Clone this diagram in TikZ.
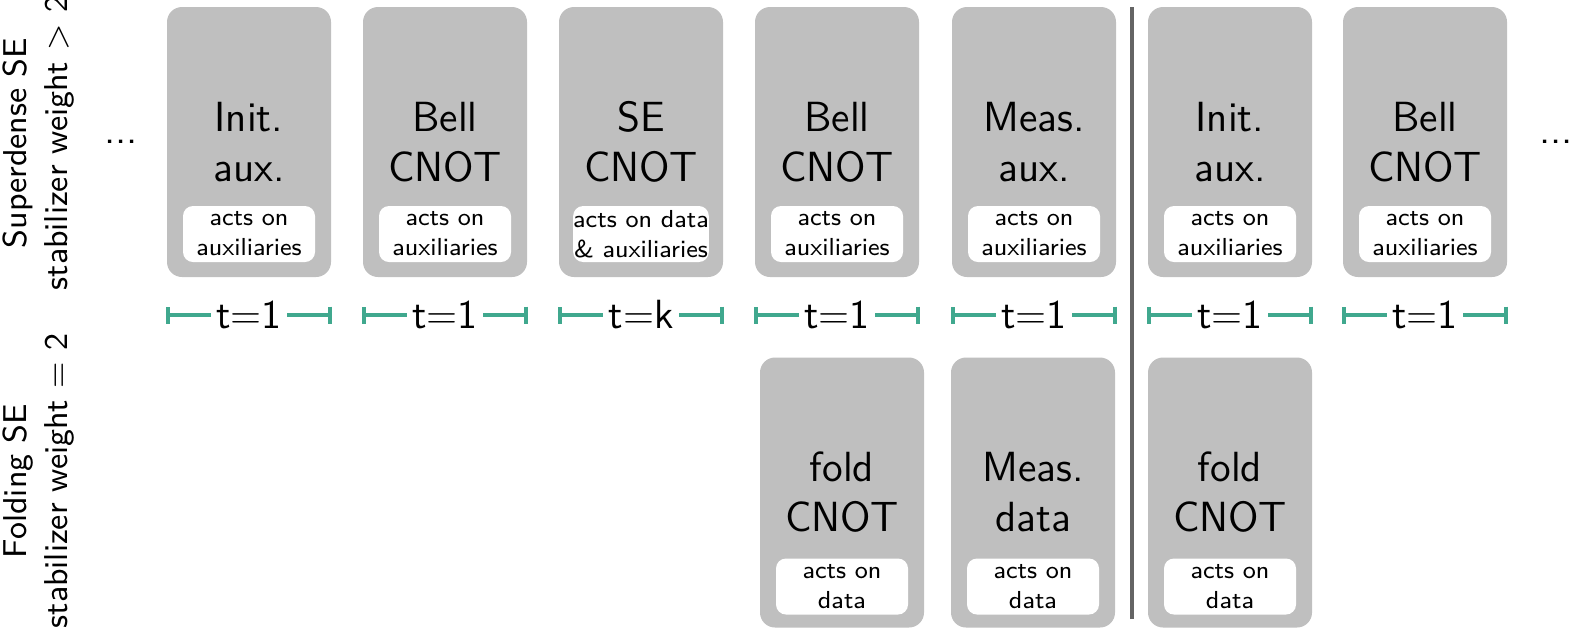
\documentclass[tikz,border=0pt]{standalone}
\usepackage{xcolor}
\usepackage{tikz}
\usetikzlibrary{arrows.meta, positioning}
\renewcommand{\familydefault}{\sfdefault}
\definecolor{mgate}{RGB}{191, 191, 191}
\definecolor{mteal}{RGB}{64, 168, 142}
\definecolor{mgray}{RGB}{100, 100, 100}

\begin{document}
\begin{tikzpicture}[
    gate/.style={rectangle, rounded corners=0.15cm, fill=mgate,
      minimum width=1.64cm, minimum height=2.70cm, inner sep=0pt,
      align=center, font=\fontsize{12}{14.2}\selectfont},
    acts/.style={rectangle, rounded corners=0.1cm, fill=white,
      minimum width=1.32cm, minimum height=0.56cm, inner sep=0pt,
      align=center, font=\fontsize{7}{8.5}\selectfont},
    tlabel/.style={inner sep=0.05cm, font=\fontsize{11.6}{14.2}\selectfont},
    tstart/.style={mteal, line width=0.04cm, {Bar[width=0.17cm]}-},
    tend/.style={mteal, line width=0.04cm, -{Bar[width=0.17cm]}},
    rowlabel/.style={rotate=90, align=center, font=\fontsize{9.4}{11.7}\selectfont}
  ]
  \useasboundingbox (0,0) rectangle (15.71,6.28);
  % Row labels
  \node[rowlabel] (rowsd) at (0.39,4.85) {Superdense SE\\stabilizer weight > 2};
  \node[rowlabel] (rowfold) at (0.39,1.47) {Folding SE\\stabilizer weight = 2};
  % Continuation dots
  \node[font=\fontsize{11.7}{14}\selectfont] (dotsl) at (1.21,4.86) {...};
  \node[font=\fontsize{11.7}{14}\selectfont] (dotsr) at (15.56,4.86) {...};
  % Superdense round
  \node[gate] (init1) at (2.49,4.86) {Init.\\aux.};
  \node[acts, above=0.15cm of init1.south] (init1act) {acts on\\auxiliaries};
  \node[gate] (bell1) at (4.45,4.86) {Bell\\CNOT};
  \node[acts, above=0.15cm of bell1.south] (bell1act) {acts on\\auxiliaries};
  \node[gate] (secnot) at (6.41,4.86) {SE\\CNOT};
  \node[acts, above=0.15cm of secnot.south] (secnotact) {acts on data\\\& auxiliaries};
  \node[gate] (bell2) at (8.37,4.86) {Bell\\CNOT};
  \node[acts, above=0.15cm of bell2.south] (bell2act) {acts on\\auxiliaries};
  \node[gate] (meas1) at (10.34,4.86) {Meas.\\aux.};
  \node[acts, above=0.15cm of meas1.south] (meas1act) {acts on\\auxiliaries};
  \node[gate] (init2) at (12.30,4.86) {Init.\\aux.};
  \node[acts, above=0.15cm of init2.south] (init2act) {acts on\\auxiliaries};
  \node[gate] (bell3) at (14.25,4.86) {Bell\\CNOT};
  \node[acts, above=0.15cm of bell3.south] (bell3act) {acts on\\auxiliaries};
  % Folding round
  \node[gate] (fold1) at (8.42,1.355) {fold\\CNOT};
  \node[acts, above=0.13cm of fold1.south] (fold1act) {acts on\\data};
  \node[gate] (measd) at (10.33,1.355) {Meas.\\data};
  \node[acts, above=0.13cm of measd.south] (measdact) {acts on\\data};
  \node[gate] (fold2) at (12.30,1.355) {fold\\CNOT};
  \node[acts, above=0.13cm of fold2.south] (fold2act) {acts on\\data};
  % Time steps
  \coordinate (tl) at (0,3.13);
  \node[tlabel] (tinit1) at (init1 |- tl) {t=1};
  \draw[tstart] (init1.west |- tl) -- (tinit1.west);
  \draw[tend] (tinit1.east) -- (init1.east |- tl);
  \node[tlabel] (tbell1) at (bell1 |- tl) {t=1};
  \draw[tstart] (bell1.west |- tl) -- (tbell1.west);
  \draw[tend] (tbell1.east) -- (bell1.east |- tl);
  \node[tlabel] (tsecnot) at (secnot |- tl) {t=k};
  \draw[tstart] (secnot.west |- tl) -- (tsecnot.west);
  \draw[tend] (tsecnot.east) -- (secnot.east |- tl);
  \node[tlabel] (tbell2) at (bell2 |- tl) {t=1};
  \draw[tstart] (bell2.west |- tl) -- (tbell2.west);
  \draw[tend] (tbell2.east) -- (bell2.east |- tl);
  \node[tlabel] (tmeas1) at (meas1 |- tl) {t=1};
  \draw[tstart] (meas1.west |- tl) -- (tmeas1.west);
  \draw[tend] (tmeas1.east) -- (meas1.east |- tl);
  \node[tlabel] (tinit2) at (init2 |- tl) {t=1};
  \draw[tstart] (init2.west |- tl) -- (tinit2.west);
  \draw[tend] (tinit2.east) -- (init2.east |- tl);
  \node[tlabel] (tbell3) at (bell3 |- tl) {t=1};
  \draw[tstart] (bell3.west |- tl) -- (tbell3.west);
  \draw[tend] (tbell3.east) -- (bell3.east |- tl);
  % Round boundary
  \draw[mgray, line width=0.04cm] (11.32,0.09) -- (11.32,6.21);
\end{tikzpicture}
\end{document}
